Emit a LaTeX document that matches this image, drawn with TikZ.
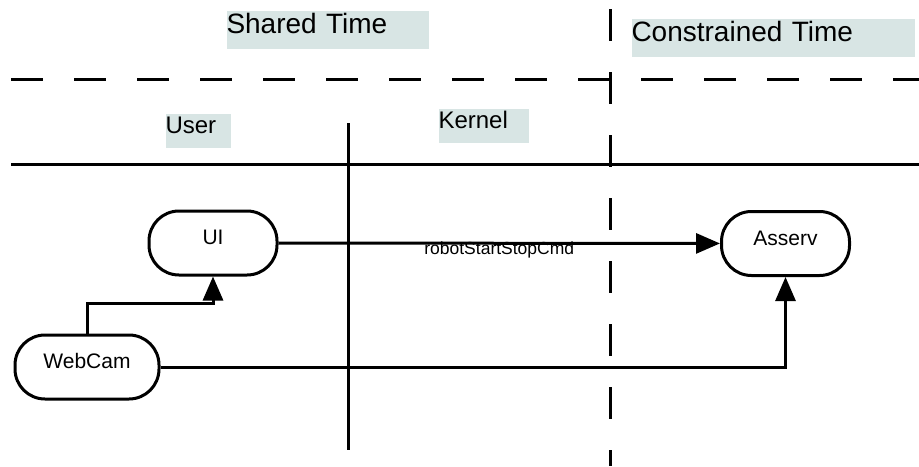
\documentclass[tikz,border=0pt]{standalone}
\usepackage{fontspec}
\setmainfont{Liberation Sans}
\usepackage{xcolor}
\usetikzlibrary{arrows.meta}

\definecolor{zonefill}{RGB}{216,229,228}

\begin{document}
\begin{tikzpicture}[x=0.5pt, y=-0.5pt, line width=1.5pt,
    task/.style={draw, rounded corners=15pt, minimum height=32pt, inner sep=0pt,
        text height=7.6pt, text depth=6pt, font=\fontsize{10.5}{12}\selectfont},
    flow/.style={-{Triangle[length=12pt, width=10pt]}},
    bigzone/.style={fill=zonefill, anchor=north west, inner sep=0pt, align=left,
        text height=11.5pt, text depth=7.5pt, font=\fontsize{14}{16}\selectfont},
    smallzone/.style={fill=zonefill, anchor=north west, inner sep=0pt, align=left,
        text height=9.8pt, text depth=7.2pt, font=\fontsize{12}{14}\selectfont}]
    \useasboundingbox (0,0) rectangle (919,466);

    % Zone labels
    \node[bigzone, text width=101pt] (shared) at (225,9) {Shared Time};
    \node[bigzone, text width=141.5pt] (constrained) at (630,17) {Constrained Time};
    \node[smallzone, text width=32.5pt] (user) at (164,112) {User};
    \node[smallzone, text width=45pt] (kernel) at (437,107) {Kernel};

    % Time boundary (dashed)
    \draw[dash pattern=on 15.75pt off 15.75pt] (11,79) -- (919,79);
    \draw[dash pattern=on 15.75pt off 15.75pt] (610,9) -- (610,466);

    % User / Kernel boundary
    \draw (11,164) -- (919,164);
    \draw (348,123) -- (348,450);

    % Tasks
    \node[task, minimum width=64pt] (ui) at (213,243) {UI};
    \node[task, minimum width=72pt] (webcam) at (87,367) {WebCam};
    \node[task, minimum width=64pt] (asserv) at (785.5,243.5) {Asserv};

    % Flows
    \draw[flow] (ui) -- (asserv)
        node[midway, below=-1.5pt, inner sep=0pt, font=\fontsize{8.75}{10}\selectfont] {robotStartStopCmd};
    \draw[flow] (webcam.north) -- ++(0,-30) -| (ui.south);
    \draw[flow] (webcam.east) -| (asserv.south);
\end{tikzpicture}
\end{document}
